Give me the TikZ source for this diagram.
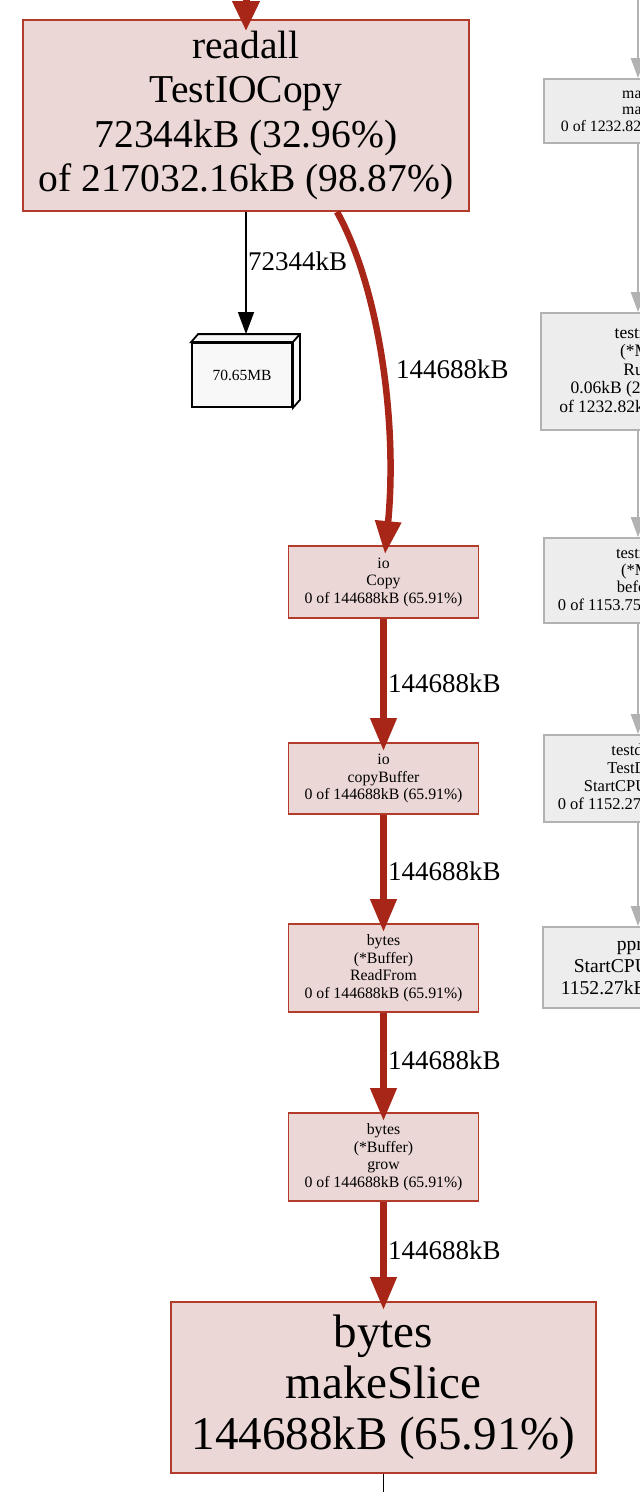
\documentclass[tikz,border=0pt]{standalone}
\usepackage{fontspec}
\setmainfont{Liberation Serif}
\usetikzlibrary{arrows.meta}
\definecolor{redfill}{HTML}{EBD7D5}
\definecolor{redline}{HTML}{B23B2B}
\definecolor{rededge}{HTML}{A82618}
\definecolor{greyfill}{HTML}{EDEDED}
\definecolor{greyline}{HTML}{B2B2B2}
\definecolor{boxfill}{HTML}{F8F8F8}
\tikzset{
  redbox/.style={draw=redline, fill=redfill, line width=1.8pt, inner sep=0pt, align=center},
  smallred/.style={redbox, minimum width=190pt, font=\fontsize{15.8}{17.5}\selectfont},
  greybox/.style={draw=greyline, fill=greyfill, line width=1.6pt, inner sep=0pt, align=center, minimum width=188pt},
  redarrow/.style={draw=rededge, line width=7pt, -{Triangle[width=25pt,length=33pt]}},
  greyarrow/.style={draw=greyline, line width=2pt, -{Triangle[width=14pt,length=20pt]}},
  blackarrow/.style={draw=black, line width=1.3pt, -{Triangle[width=16pt,length=22pt]}},
  elabel/.style={font=\fontsize{27}{30}\selectfont, inner sep=0pt, anchor=west},
}
\begin{document}
\begin{tikzpicture}[x=1pt,y=-1pt]
\useasboundingbox (0,0) rectangle (640,1492);
\clip (0,0) rectangle (640,1492);

% red chain
\node[redbox, minimum width=446pt, minimum height=191pt, font=\fontsize{39.5}{44.3}\selectfont] (readall) at (246,115.5)
  {readall\\TestIOCopy\\72344kB (32.96\%)\\of 217032.16kB (98.87\%)};
\node[smallred, minimum height=72pt] (copy) at (383.5,582) {io\\Copy\\0 of 144688kB (65.91\%)};
\node[smallred, minimum height=71pt] (copybuf) at (383.5,778.5) {io\\copyBuffer\\0 of 144688kB (65.91\%)};
\node[smallred, minimum height=88pt] (readfrom) at (383.5,968) {bytes\\(*Buffer)\\ReadFrom\\0 of 144688kB (65.91\%)};
\node[smallred, minimum height=88pt] (grow) at (383.5,1157) {bytes\\(*Buffer)\\grow\\0 of 144688kB (65.91\%)};
\node[redbox, minimum width=425pt, minimum height=171pt, font=\fontsize{47}{51}\selectfont] (makeslice) at (383.5,1387.5)
  {bytes\\makeSlice\\144688kB (65.91\%)};

% 3d box
\node[draw=black, fill=boxfill, line width=1.8pt, minimum width=100pt, minimum height=64pt, inner sep=0pt,
      font=\fontsize{15.5}{18}\selectfont] (mb) at (242,375) {70.65MB};
\draw[black, line width=1.8pt, fill=boxfill, line join=miter]
  (mb.north west) -- ++(7,-8) -- ([xshift=7pt,yshift=8pt]mb.north east) -- ([xshift=7pt,yshift=8pt]mb.south east) -- (mb.south east) -- (mb.north east) -- cycle;
\draw[black, line width=1.8pt] (mb.north east) -- ++(7,-8);
\coordinate (mbtop) at ([xshift=4pt,yshift=8pt]mb.north);

% grey column
\node[greybox, minimum height=64pt, font=\fontsize{15.8}{16.5}\selectfont] (g1) at (638,111)
  {main\\main\\0 of 1232.82kB (0.56\%)};
\node[greybox, minimum width=194pt, minimum height=117pt, font=\fontsize{17.5}{18.5}\selectfont] (g2) at (638,371.5)
  {testing\\(*M)\\Run\\0.06kB (2.7e-05\%)\\of 1232.82kB (0.56\%)};
\node[greybox, minimum height=85pt, font=\fontsize{16.5}{17.3}\selectfont] (g3) at (638,580.5)
  {testing\\(*M)\\before\\0 of 1153.75kB (0.53\%)};
\node[greybox, minimum height=87pt, font=\fontsize{16.5}{18}\selectfont] (g4) at (638,778.5)
  {testdeps\\TestDeps\\StartCPUProfile\\0 of 1152.27kB (0.52\%)};
\node[greybox, minimum width=190pt, minimum height=81pt, font=\fontsize{19.6}{22}\selectfont] (g5) at (638,967.5)
  {pprof\\StartCPUProfile\\1152.27kB (0.52\%)};

\coordinate (gtop) at (638,-10);
\draw[greyarrow] (gtop) -- (g1.north);
\draw[greyarrow] (g1.south) -- (g2.north);
\draw[greyarrow] (g2.south) -- (g3.north);
\draw[greyarrow] (g3.south) -- (g4.north);
\draw[greyarrow] (g4.south) -- (g5.north);

% edges
\coordinate (rtop) at (246,-10);
\draw[draw=rededge, line width=7pt, -{Triangle[width=26pt,length=30pt]}] (rtop) -- ([yshift=-12pt]readall.north);
\draw[blackarrow] (readall.south) -- (mbtop);
\draw[draw=rededge, line width=6.5pt, -{Triangle[width=25pt,length=33pt]}]
  ([xshift=91pt]readall.south) .. controls (378,285) and (398,420) .. ([xshift=1.5pt,yshift=-9pt]copy.north);
\draw[redarrow] (copy.south) -- ([yshift=-9pt]copybuf.north);
\draw[redarrow] (copybuf.south) -- ([yshift=-9pt]readfrom.north);
\draw[redarrow] (readfrom.south) -- ([yshift=-9pt]grow.north);
\draw[redarrow] (grow.south) -- ([yshift=-9pt]makeslice.north);
\coordinate (bot) at (383.5,1500);
\draw[black, line width=1.3pt] (makeslice.south) -- (bot);

% labels
\node[elabel] (l0) at (248,261) {72344kB};
\node[elabel] (l1) at (396,369) {144688kB};
\node[elabel] (l2) at (388,683) {144688kB};
\node[elabel] (l3) at (388,871) {144688kB};
\node[elabel] (l4) at (388,1060) {144688kB};
\node[elabel] (l5) at (388,1250) {144688kB};
\end{tikzpicture}
\end{document}
